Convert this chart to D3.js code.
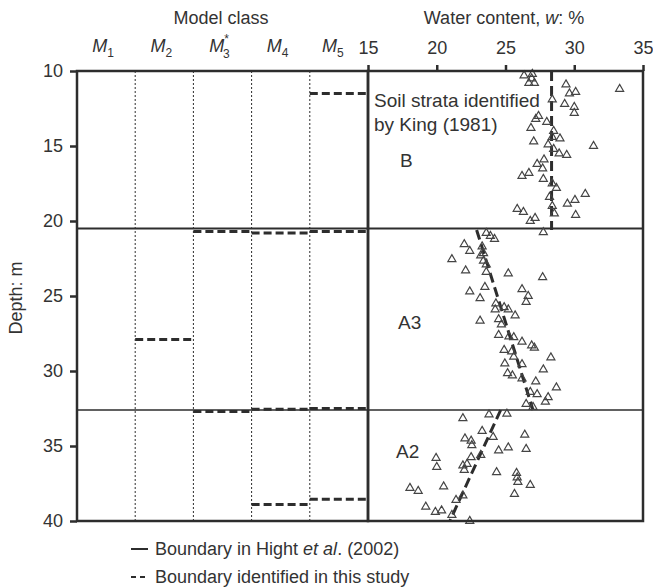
<!DOCTYPE html>
<html><head><meta charset="utf-8">
<script src="https://cdn.jsdelivr.net/npm/d3@7"></script>
<style>body{margin:0;background:#fff}svg{display:block;font-family:"Liberation Sans",Arial,sans-serif}</style>
</head><body><svg id="c" width="653" height="587"></svg>
<script>
// ---- data ----
const classes = ["M1","M2","M3","M4","M5"];
const depthTicks = [10,15,20,25,30,35,40];
const wTicks = [15,20,25,30,35];
const hightBoundaries = [20.5, 32.6];
const studyClass = ["M5","M3","M4","M5","M2","M3","M4","M5","M4","M5"];
const studyDepth = [11.5,20.7,20.8,20.7,27.9,32.7,32.55,32.5,38.9,38.55];
const trendB = [[28.35,10],[28.35,20.6]];
const trendA3 = [[22.9,20.6],[27.0,32.6]];
const trendA2 = [[24.65,32.6],[20.95,40]];
const pointsB = [[26.35,10.3],[26.95,10.2],[26.7,10.8],[27.1,10.8],[26.9,10.5],[29.4,10.9],[29.65,11.5],[30.1,11.4],[33.3,11.2],[28.4,11.9],[29.3,12.2],[30.0,12.4],[30.0,12.8],[27.4,13.0],[27.2,13.2],[28.0,13.4],[26.85,13.8],[28.5,14.0],[28.4,14.4],[28.96,14.5],[27.05,14.7],[28.1,14.9],[31.4,15.0],[28.5,15.2],[28.9,15.5],[29.45,15.6],[27.8,15.9],[27.3,16.2],[27.7,16.5],[26.7,16.8],[26.2,17.0],[27.75,17.2],[28.4,17.5],[28.7,17.8],[30.8,18.2],[28.2,18.4],[30.05,18.6],[29.5,18.85],[25.85,19.2],[26.3,19.4],[28.4,19.0],[28.55,19.5],[30.1,19.6],[27.15,19.8],[26.8,20.0]];
const pointsA3 = [[23.6,20.8],[23.9,21.0],[24.2,21.2],[27.75,20.75],[22.0,21.55],[22.4,22.0],[23.3,21.7],[23.4,22.15],[21.1,22.55],[23.2,22.3],[23.4,22.65],[23.6,22.9],[22.1,23.3],[23.6,23.4],[25.2,23.5],[27.7,23.75],[22.4,24.7],[23.5,24.4],[26.2,24.55],[26.65,25.0],[26.5,25.4],[23.15,25.15],[24.3,25.5],[24.25,25.9],[24.9,25.75],[25.2,25.9],[25.7,26.3],[24.5,26.55],[24.7,26.9],[23.15,26.65],[24.5,27.6],[25.25,27.7],[25.6,27.75],[26.2,28.05],[26.9,28.3],[27.1,28.45],[24.9,28.6],[25.45,28.7],[25.6,29.05],[28.3,29.1],[24.95,29.5],[26.2,29.55],[27.75,29.9],[25.15,30.15],[25.5,30.3],[26.2,30.5],[27.2,30.7],[28.7,31.1],[26.8,31.4],[27.3,31.55],[28.1,31.75],[27.9,32.05],[26.5,32.2],[27.0,32.4]];
const pointsA2 = [[21.9,33.15],[23.8,32.9],[25.1,32.85],[23.3,34.0],[24.1,34.4],[26.4,34.25],[22.05,34.5],[22.5,34.65],[22.55,34.95],[25.2,35.1],[24.5,35.3],[26.5,35.2],[23.2,35.6],[22.5,35.75],[19.95,35.8],[20.0,36.4],[21.9,36.3],[22.2,36.2],[22.0,36.6],[24.35,36.75],[25.8,36.8],[25.85,37.1],[25.9,37.4],[26.8,37.6],[20.5,37.7],[25.65,38.2],[21.4,38.6],[21.9,38.3],[19.2,39.05],[19.9,39.4],[20.35,39.3],[21.1,39.6],[22.4,40.0],[18.05,37.8],[18.65,38.0]];
const strataLabels = [["B",15.95],["A3",26.7],["A2",35.3]];

// ---- drawing ----
const svg = d3.select("#c");
const ink = "#2d2d2d", txt = "#333";
const FS = 18;
const y = d3.scaleLinear().domain([10,40]).range([71,521]);
const xC = d3.scaleBand().domain(classes).range([77,368]);
const xW = d3.scaleLinear().domain([15,35]).range([368,643]);

// dotted class boundaries
svg.append("g").selectAll("line").data(classes.slice(1)).join("line")
  .attr("x1",d=>xC(d)).attr("x2",d=>xC(d)).attr("y1",y(10)).attr("y2",y(40))
  .attr("stroke",ink).attr("stroke-width",1).attr("stroke-dasharray","2,2");

// Hight boundaries (solid)
svg.append("g").selectAll("line").data(hightBoundaries).join("line")
  .attr("x1",77).attr("x2",643).attr("y1",d=>y(d)).attr("y2",d=>y(d))
  .attr("stroke",ink).attr("stroke-width",(d,i)=>i===0?2.2:1.4);

// study boundaries (dashed)
svg.append("g").selectAll("line").data(studyDepth).join("line")
  .attr("x1",(d,i)=>xC(studyClass[i])).attr("x2",(d,i)=>xC(studyClass[i])+xC.bandwidth())
  .attr("y1",d=>y(d)).attr("y2",d=>y(d))
  .attr("stroke",ink).attr("stroke-width",3).attr("stroke-dasharray","8,4");

// trend lines
const line = d3.line().x(d=>xW(d[0])).y(d=>y(d[1]));
[trendB,trendA3,trendA2].forEach(t=>{
  svg.append("path").attr("d",line(t)).attr("fill","none").attr("stroke",ink)
    .attr("stroke-width",3).attr("stroke-dasharray","10,5");
});

// points
const tri = d3.symbol().type(d3.symbolTriangle).size(28);
svg.append("g").selectAll("path").data(pointsB.concat(pointsA3,pointsA2)).join("path")
  .attr("d",tri).attr("transform",d=>`translate(${xW(d[0])},${y(d[1])})`)
  .attr("fill","none").attr("stroke","#444").attr("stroke-width",1.2);

// frames
svg.append("rect").attr("x",77).attr("y",y(10)).attr("width",368-77).attr("height",y(40)-y(10))
  .attr("fill","none").attr("stroke",ink).attr("stroke-width",2.5);
svg.append("rect").attr("x",368).attr("y",y(10)).attr("width",643-368).attr("height",y(40)-y(10))
  .attr("fill","none").attr("stroke",ink).attr("stroke-width",2.5);

// left axis
const yAxis = svg.append("g").attr("transform","translate(77,0)")
  .call(d3.axisLeft(y).tickValues(depthTicks).tickSize(7).tickPadding(7));
yAxis.select(".domain").remove();
yAxis.selectAll("line").attr("stroke",ink).attr("stroke-width",2.5);
yAxis.selectAll("text").attr("fill",txt).attr("font-size",FS).attr("font-family","Liberation Sans, Arial, sans-serif");

// top water-content axis
const xAxis = svg.append("g").attr("transform",`translate(0,${y(10)})`)
  .call(d3.axisTop(xW).tickValues(wTicks).tickSize(6).tickPadding(11));
xAxis.select(".domain").remove();
xAxis.selectAll("line").attr("stroke",ink).attr("stroke-width",2.5);
xAxis.selectAll("text").attr("fill",txt).attr("font-size",FS).attr("font-family","Liberation Sans, Arial, sans-serif");

// class labels
const cl = svg.append("g").selectAll("text").data(classes).join("text")
  .attr("x",(d,i)=>xC(d)+xC.bandwidth()/2-(i===4?6:3)).attr("y",52)
  .attr("text-anchor","middle").attr("fill",txt).attr("font-size",FS);
cl.append("tspan").attr("font-style","italic").text("M");
cl.each(function(d){
  const t = d3.select(this);
  if(d==="M3"){
    t.append("tspan").attr("font-size",12).attr("dy",-9).text("*");
    t.append("tspan").attr("font-size",12).attr("dx",-6).attr("dy",15).text("3");
  } else {
    t.append("tspan").attr("font-size",12).attr("dy",5).text(d.slice(1));
  }
});

// titles
svg.append("text").attr("x",221).attr("y",24).attr("text-anchor","middle").attr("fill",txt).attr("font-size",FS).text("Model class");
const wt = svg.append("text").attr("x",504).attr("y",24).attr("text-anchor","middle").attr("fill",txt).attr("font-size",FS);
wt.append("tspan").text("Water content, ");
wt.append("tspan").attr("font-style","italic").text("w");
wt.append("tspan").text(": %");
svg.append("text").attr("transform","translate(22,298) rotate(-90)").attr("text-anchor","middle")
  .attr("fill",txt).attr("font-size",FS).text("Depth: m");

// strata annotation
svg.append("text").attr("x",374).attr("y",107).attr("fill",txt).attr("font-size",19).text("Soil strata identified");
svg.append("text").attr("x",374).attr("y",131).attr("fill",txt).attr("font-size",19).text("by King (1981)");
svg.append("g").selectAll("text").data(strataLabels).join("text")
  .attr("x",(d,i)=>[400,398,396][i]).attr("y",d=>y(d[1])+7)
  .attr("fill",txt).attr("font-size",19).text(d=>d[0]);

// legend
svg.append("line").attr("x1",131).attr("x2",148).attr("y1",549).attr("y2",549).attr("stroke",ink).attr("stroke-width",2);
svg.append("line").attr("x1",131).attr("x2",149).attr("y1",577).attr("y2",577).attr("stroke",ink).attr("stroke-width",2).attr("stroke-dasharray","5,4");
const l1 = svg.append("text").attr("x",155).attr("y",555).attr("fill",txt).attr("font-size",FS);
l1.append("tspan").text("Boundary in Hight ");
l1.append("tspan").attr("font-style","italic").text("et al");
l1.append("tspan").text(". (2002)");
svg.append("text").attr("x",155).attr("y",583).attr("fill",txt).attr("font-size",FS).text("Boundary identified in this study");
</script></body></html>
